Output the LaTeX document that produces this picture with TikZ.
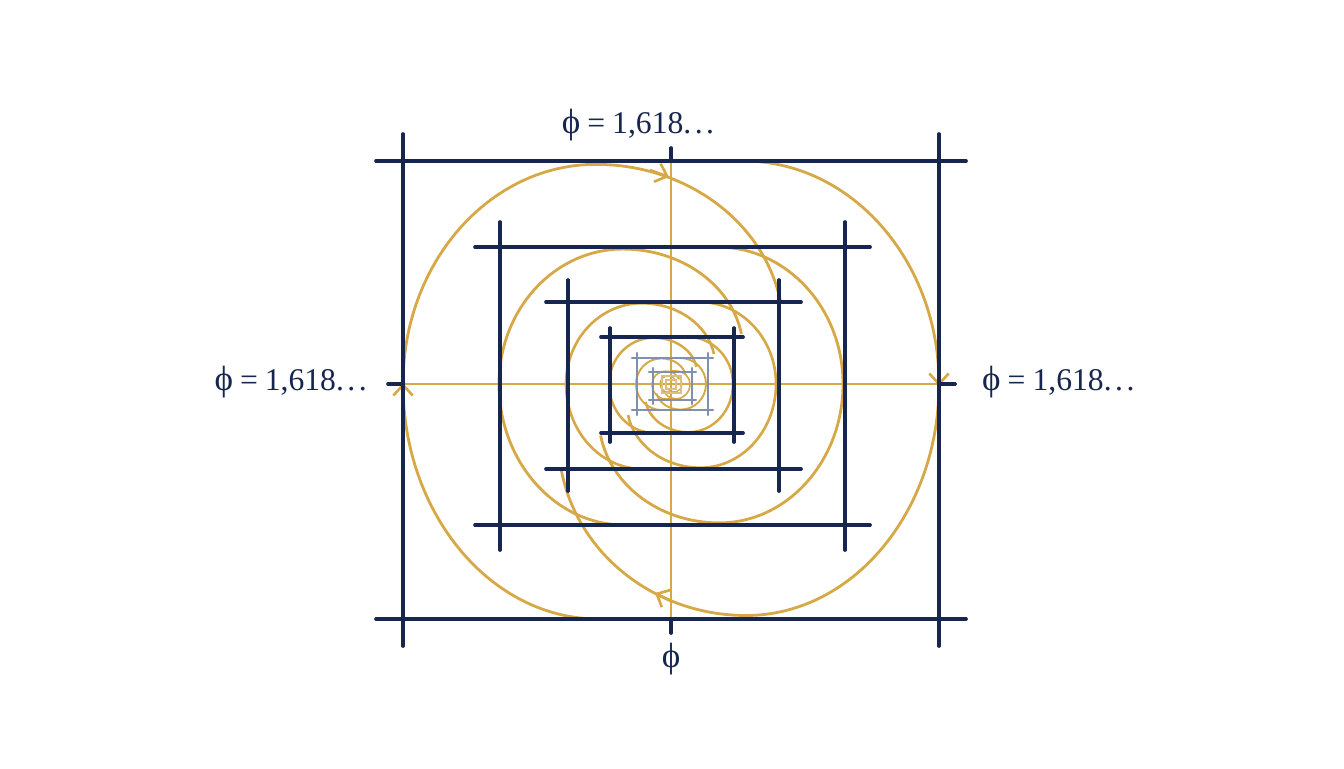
\documentclass[tikz,border=0pt]{standalone}
\usepackage{fontspec}
\setmainfont{Liberation Serif}
\usepackage{tikz}
\usetikzlibrary{arrows.meta}
\definecolor{navy}{HTML}{17264F}
\definecolor{gold}{HTML}{D6A847}
\definecolor{slate}{HTML}{8190AE}
\definecolor{sand}{HTML}{DDBE7E}
\newcommand{\bigphi}{{\fontsize{20}{20}\selectfont ϕ}}
\newcommand{\ratiotext}{\bigphi\hspace{4pt}=\hspace{4pt}1,618.\kern2pt.\kern2pt.}

\begin{document}
\begin{tikzpicture}[x=0.02cm,y=-0.02cm,
	frame/.style={navy,line width=2.1pt,line cap=round},
	thinframe/.style={slate,line width=1.2pt,line cap=round},
	spiral/.style={gold,line width=1.6pt},
	axis/.style={gold,line width=1.5pt},
	tip/.style={gold,line width=1.5pt,-{Straight Barb[length=6pt,width=11pt]}},
	ratio/.style={text=navy,font=\fontsize{18}{21}\selectfont}]
	\useasboundingbox (0,0) rectangle (1344,768);
	% golden axes
	\draw[axis] (403,384) -- (939,384) (671,163) -- (671,619);
	% the two arms, one level per nested frame
	\foreach \a/\t/\b/\w in {268/223/235/1.6, 172/137/141/1.6, 105/82/85/1.5, 62/47/49/1.4, 35/26/26/1.1, 19/13/15/.9, 11/8/8/.7}{
		\draw[spiral,line width=\w pt] ({671-0.05*\a},{384+\b}) -- ({671-0.27*\a},{384+\b})
			arc[start angle=90,end angle=180,x radius=0.73*\a,y radius=\b]
			arc[start angle=180,end angle=270,x radius=0.72*\a,y radius=0.985*\t]
			arc[start angle=270,end angle=350,x radius=0.7*\a,y radius=0.75*\t];
		\draw[spiral,line width=\w pt] ({671+0.05*\a},{384-\t}) -- ({671+0.27*\a},{384-\t})
			arc[start angle=270,end angle=360,x radius=0.73*\a,y radius=\t]
			arc[start angle=0,end angle=90,x radius=0.72*\a,y radius=0.985*\b]
			arc[start angle=90,end angle=170,x radius=0.7*\a,y radius=0.75*\b];
	}
	% arrow tips on the outer arms
	\draw[tip] (403,402) -- (403,383);
	\draw[tip] (650,170) -- (669,177);
	\draw[tip] (939,366) -- (939,386);
	\draw[tip] (673,602) -- (655,593);
	% nested frames
	\foreach \l/\r/\u/\d/\o in {403/939/161/619/27, 500/845/247/525/25, 568/779/302/469/22, 610/734/337/433/9}
		\draw[frame] (\l,\u-\o) -- (\l,\d+\o) (\r,\u-\o) -- (\r,\d+\o) (\l-\o,\u) -- (\r+\o,\u) (\l-\o,\d) -- (\r+\o,\d);
	\foreach \l/\r/\u/\d/\o in {637/708/358/410/5, 653/692/372/400/4}
		\draw[thinframe] (\l,\u-\o) -- (\l,\d+\o) (\r,\u-\o) -- (\r,\d+\o) (\l-\o,\u) -- (\r+\o,\u) (\l-\o,\d) -- (\r+\o,\d);
	\draw[sand,line width=.6pt] (662,376) rectangle (681,393) (666,380) rectangle (676,389);
	% ticks where the axes meet the outer frame
	\draw[frame] (388,384) -- (403,384) (939,384) -- (955,384) (671,148) -- (671,161) (671,619) -- (671,633);
	% labels
	\node[ratio,anchor=base] (phitop) at (638,133) {\ratiotext};
	\node[ratio,anchor=base east] (phileft) at (373,390) {\ratiotext};
	\node[ratio,anchor=base west] (phiright) at (976,390) {\ratiotext};
	\node[ratio] (phibot) at (671,659) {\bigphi};
\end{tikzpicture}
\end{document}
